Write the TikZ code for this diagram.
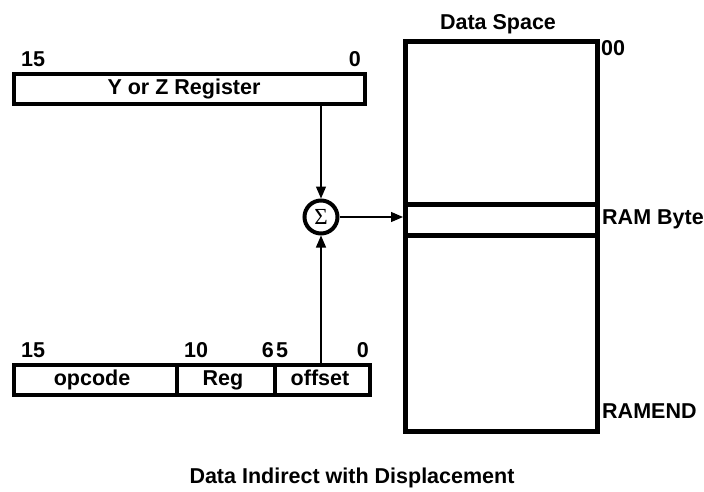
\documentclass[tikz,border=0pt]{standalone}
\usepackage{fontspec}
\setmainfont{Liberation Sans}
\newfontfamily\sigfont{Liberation Serif}
\usetikzlibrary{arrows.meta}
\begin{document}
\begin{tikzpicture}[x=1pt,y=-1pt,
  lbl/.style={font=\fontsize{21.5}{24}\selectfont\bfseries, inner sep=0pt, anchor=base},
  thickbox/.style={draw, line width=4.2pt, inner sep=0pt},
  conn/.style={line width=1.2pt, -{Triangle[length=12pt,width=10pt]}}]
\useasboundingbox (0,0) rectangle (704,491);
% Y or Z register
\node[thickbox, minimum width=351pt, minimum height=30pt, anchor=north west] (yz) at (12,72) {};
\node[lbl] (yzt) at (184,94.5) {Y or Z Register};
\node[lbl, anchor=base west] (y15) at (21,66) {15};
\node[lbl, anchor=base east] (y0) at (361,66) {0};
% instruction word
\node[thickbox, minimum width=163pt, minimum height=30pt, anchor=north west] (opc) at (12,363) {};
\node[thickbox, minimum width=98pt, minimum height=30pt, anchor=north west] (reg) at (175,363) {};
\node[thickbox, minimum width=95pt, minimum height=30pt, anchor=north west] (off) at (273,363) {};
\node[lbl] (opct) at (92,385.5) {opcode};
\node[lbl] (regt) at (223,385.5) {Reg};
\node[lbl] (offt) at (320,385.5) {offset};
\node[lbl, anchor=base west] (b15) at (21,357.5) {15};
\node[lbl, anchor=base west] (b10) at (184,357.5) {10};
\node[lbl, anchor=base east] (b6) at (274,357.5) {6};
\node[lbl, anchor=base west] (b5) at (276,357.5) {5};
\node[lbl, anchor=base east] (b0) at (369,357.5) {0};
% sigma
\node[draw, circle, line width=4pt, minimum size=33pt, inner sep=0pt] (sig) at (321,217) {\fontsize{23}{23}\sigfont Σ};
% data space
\node[thickbox, line width=4.5pt, minimum width=192pt, minimum height=390pt, anchor=north west] (ds) at (403,39) {};
\node[thickbox, line width=4.5pt, minimum width=192pt, minimum height=31pt, anchor=north west] (rb) at (403,202) {};
\node[lbl] (dst) at (498,29.5) {Data Space};
\node[lbl, anchor=base west] (d00) at (601,55.5) {00};
\node[lbl, anchor=base west] (drb) at (602,224.5) {RAM Byte};
\node[lbl, anchor=base west] (dre) at (602,418.5) {RAMEND};
\node[lbl] (cap) at (352,483) {Data Indirect with Displacement};
% connectors
\coordinate (yzb) at (321,102);
\coordinate (offtop) at (321,363);
\draw[conn] (yzb) -- (sig.north);
\draw[conn] (offtop) -- (sig.south);
\draw[conn] (sig.east) -- (sig.east -| rb.west);
\end{tikzpicture}
\end{document}
